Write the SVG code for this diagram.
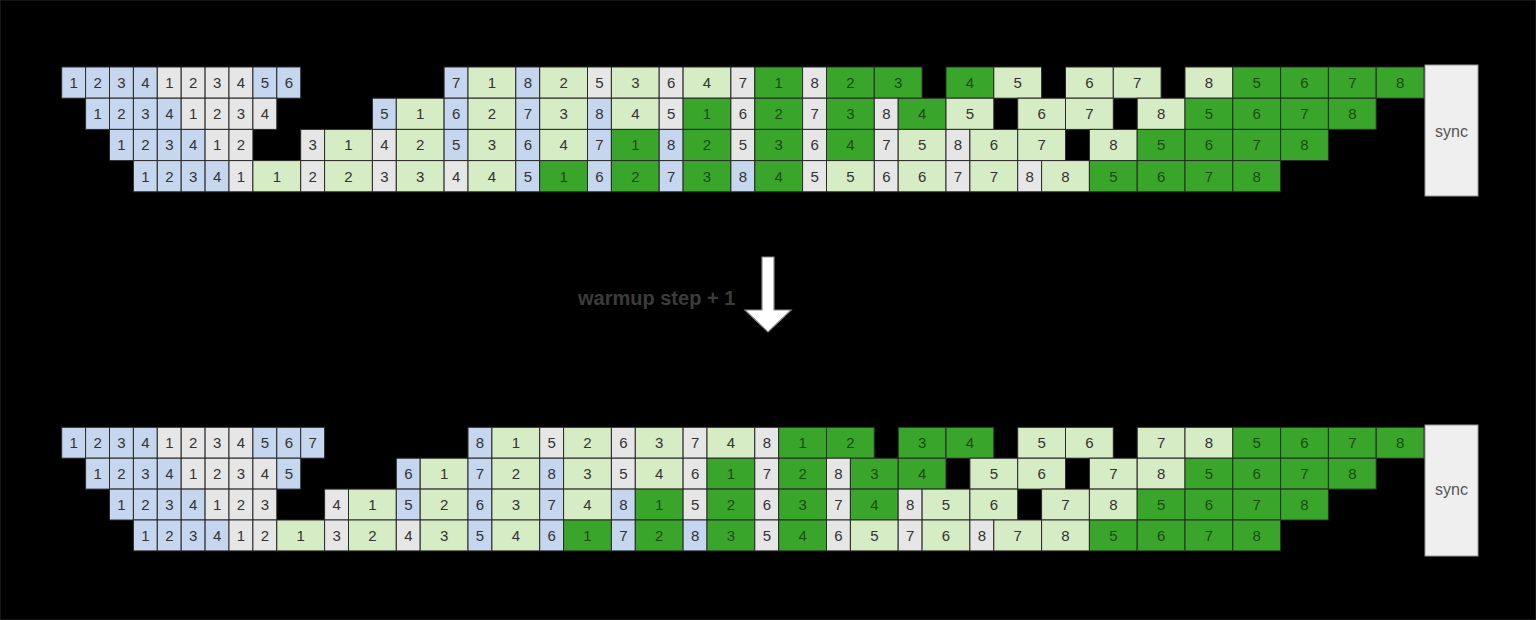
<svg xmlns="http://www.w3.org/2000/svg" width="1536" height="620" viewBox="0 0 1536 620">
<style>
rect{stroke:#2a2a2a;stroke-width:1}
.b{fill:#c5d6ee}.g{fill:#e6e6e6}.l{fill:#d6ecc4}.d{fill:#3aa52b}
text{font-family:"Liberation Sans",Arial,sans-serif;font-size:15px;text-anchor:middle;fill:#333}
.k{fill:#1b4d12}
.sync{fill:#efefef;stroke:#9a9a9a;stroke-width:1}
.st{font-size:16px;fill:#555}
</style>
<rect x="0" y="0" width="1536" height="620" fill="#000" stroke="none"/>

<g id="top">
<g id="top-r1" transform="translate(0,67)">
<rect class="b" x="61.7" width="23.9" height="31.2"/><text x="73.7" y="21">1</text>
<rect class="b" x="85.6" width="23.9" height="31.2"/><text x="97.6" y="21">2</text>
<rect class="b" x="109.5" width="23.9" height="31.2"/><text x="121.5" y="21">3</text>
<rect class="b" x="133.4" width="23.9" height="31.2"/><text x="145.4" y="21">4</text>
<rect class="g" x="157.3" width="23.9" height="31.2"/><text x="169.3" y="21">1</text>
<rect class="g" x="181.2" width="23.9" height="31.2"/><text x="193.2" y="21">2</text>
<rect class="g" x="205.1" width="23.9" height="31.2"/><text x="217.1" y="21">3</text>
<rect class="g" x="229.0" width="23.9" height="31.2"/><text x="241.0" y="21">4</text>
<rect class="b" x="252.9" width="23.9" height="31.2"/><text x="264.9" y="21">5</text>
<rect class="b" x="276.8" width="23.9" height="31.2"/><text x="288.8" y="21">6</text>
<rect class="b" x="444.1" width="23.9" height="31.2"/><text x="456.1" y="21">7</text>
<rect class="l" x="468.0" width="47.8" height="31.2"/><text x="491.9" y="21">1</text>
<rect class="b" x="515.8" width="23.9" height="31.2"/><text x="527.8" y="21">8</text>
<rect class="l" x="539.7" width="47.8" height="31.2"/><text x="563.6" y="21">2</text>
<rect class="g" x="587.5" width="23.9" height="31.2"/><text x="599.5" y="21">5</text>
<rect class="l" x="611.4" width="47.8" height="31.2"/><text x="635.3" y="21">3</text>
<rect class="g" x="659.2" width="23.9" height="31.2"/><text x="671.2" y="21">6</text>
<rect class="l" x="683.1" width="47.8" height="31.2"/><text x="707.0" y="21">4</text>
<rect class="g" x="730.9" width="23.9" height="31.2"/><text x="742.9" y="21">7</text>
<rect class="d" x="754.8" width="47.8" height="31.2"/><text class="k" x="778.7" y="21">1</text>
<rect class="g" x="802.6" width="23.9" height="31.2"/><text x="814.6" y="21">8</text>
<rect class="d" x="826.5" width="47.8" height="31.2"/><text class="k" x="850.4" y="21">2</text>
<rect class="d" x="874.3" width="47.8" height="31.2"/><text class="k" x="898.2" y="21">3</text>
<rect class="d" x="946.0" width="47.8" height="31.2"/><text class="k" x="969.9" y="21">4</text>
<rect class="l" x="993.8" width="47.8" height="31.2"/><text x="1017.7" y="21">5</text>
<rect class="l" x="1065.5" width="47.8" height="31.2"/><text x="1089.4" y="21">6</text>
<rect class="l" x="1113.3" width="47.8" height="31.2"/><text x="1137.2" y="21">7</text>
<rect class="l" x="1185.0" width="47.8" height="31.2"/><text x="1208.9" y="21">8</text>
<rect class="d" x="1232.8" width="47.8" height="31.2"/><text class="k" x="1256.7" y="21">5</text>
<rect class="d" x="1280.6" width="47.8" height="31.2"/><text class="k" x="1304.5" y="21">6</text>
<rect class="d" x="1328.4" width="47.8" height="31.2"/><text class="k" x="1352.3" y="21">7</text>
<rect class="d" x="1376.2" width="47.8" height="31.2"/><text class="k" x="1400.1" y="21">8</text>
</g>
<g id="top-r2" transform="translate(0,98.2)">
<rect class="b" x="85.6" width="23.9" height="31.2"/><text x="97.6" y="21">1</text>
<rect class="b" x="109.5" width="23.9" height="31.2"/><text x="121.5" y="21">2</text>
<rect class="b" x="133.4" width="23.9" height="31.2"/><text x="145.4" y="21">3</text>
<rect class="b" x="157.3" width="23.9" height="31.2"/><text x="169.3" y="21">4</text>
<rect class="g" x="181.2" width="23.9" height="31.2"/><text x="193.2" y="21">1</text>
<rect class="g" x="205.1" width="23.9" height="31.2"/><text x="217.1" y="21">2</text>
<rect class="g" x="229.0" width="23.9" height="31.2"/><text x="241.0" y="21">3</text>
<rect class="g" x="252.9" width="23.9" height="31.2"/><text x="264.9" y="21">4</text>
<rect class="b" x="372.4" width="23.9" height="31.2"/><text x="384.4" y="21">5</text>
<rect class="l" x="396.3" width="47.8" height="31.2"/><text x="420.2" y="21">1</text>
<rect class="b" x="444.1" width="23.9" height="31.2"/><text x="456.1" y="21">6</text>
<rect class="l" x="468.0" width="47.8" height="31.2"/><text x="491.9" y="21">2</text>
<rect class="b" x="515.8" width="23.9" height="31.2"/><text x="527.8" y="21">7</text>
<rect class="l" x="539.7" width="47.8" height="31.2"/><text x="563.6" y="21">3</text>
<rect class="b" x="587.5" width="23.9" height="31.2"/><text x="599.5" y="21">8</text>
<rect class="l" x="611.4" width="47.8" height="31.2"/><text x="635.3" y="21">4</text>
<rect class="g" x="659.2" width="23.9" height="31.2"/><text x="671.2" y="21">5</text>
<rect class="d" x="683.1" width="47.8" height="31.2"/><text class="k" x="707.0" y="21">1</text>
<rect class="g" x="730.9" width="23.9" height="31.2"/><text x="742.9" y="21">6</text>
<rect class="d" x="754.8" width="47.8" height="31.2"/><text class="k" x="778.7" y="21">2</text>
<rect class="g" x="802.6" width="23.9" height="31.2"/><text x="814.6" y="21">7</text>
<rect class="d" x="826.5" width="47.8" height="31.2"/><text class="k" x="850.4" y="21">3</text>
<rect class="g" x="874.3" width="23.9" height="31.2"/><text x="886.3" y="21">8</text>
<rect class="d" x="898.2" width="47.8" height="31.2"/><text class="k" x="922.1" y="21">4</text>
<rect class="l" x="946.0" width="47.8" height="31.2"/><text x="969.9" y="21">5</text>
<rect class="l" x="1017.7" width="47.8" height="31.2"/><text x="1041.6" y="21">6</text>
<rect class="l" x="1065.5" width="47.8" height="31.2"/><text x="1089.4" y="21">7</text>
<rect class="l" x="1137.2" width="47.8" height="31.2"/><text x="1161.1" y="21">8</text>
<rect class="d" x="1185.0" width="47.8" height="31.2"/><text class="k" x="1208.9" y="21">5</text>
<rect class="d" x="1232.8" width="47.8" height="31.2"/><text class="k" x="1256.7" y="21">6</text>
<rect class="d" x="1280.6" width="47.8" height="31.2"/><text class="k" x="1304.5" y="21">7</text>
<rect class="d" x="1328.4" width="47.8" height="31.2"/><text class="k" x="1352.3" y="21">8</text>
</g>
<g id="top-r3" transform="translate(0,129.4)">
<rect class="b" x="109.5" width="23.9" height="31.2"/><text x="121.5" y="21">1</text>
<rect class="b" x="133.4" width="23.9" height="31.2"/><text x="145.4" y="21">2</text>
<rect class="b" x="157.3" width="23.9" height="31.2"/><text x="169.3" y="21">3</text>
<rect class="b" x="181.2" width="23.9" height="31.2"/><text x="193.2" y="21">4</text>
<rect class="g" x="205.1" width="23.9" height="31.2"/><text x="217.1" y="21">1</text>
<rect class="g" x="229.0" width="23.9" height="31.2"/><text x="241.0" y="21">2</text>
<rect class="g" x="300.7" width="23.9" height="31.2"/><text x="312.7" y="21">3</text>
<rect class="l" x="324.6" width="47.8" height="31.2"/><text x="348.5" y="21">1</text>
<rect class="g" x="372.4" width="23.9" height="31.2"/><text x="384.4" y="21">4</text>
<rect class="l" x="396.3" width="47.8" height="31.2"/><text x="420.2" y="21">2</text>
<rect class="b" x="444.1" width="23.9" height="31.2"/><text x="456.1" y="21">5</text>
<rect class="l" x="468.0" width="47.8" height="31.2"/><text x="491.9" y="21">3</text>
<rect class="b" x="515.8" width="23.9" height="31.2"/><text x="527.8" y="21">6</text>
<rect class="l" x="539.7" width="47.8" height="31.2"/><text x="563.6" y="21">4</text>
<rect class="b" x="587.5" width="23.9" height="31.2"/><text x="599.5" y="21">7</text>
<rect class="d" x="611.4" width="47.8" height="31.2"/><text class="k" x="635.3" y="21">1</text>
<rect class="b" x="659.2" width="23.9" height="31.2"/><text x="671.2" y="21">8</text>
<rect class="d" x="683.1" width="47.8" height="31.2"/><text class="k" x="707.0" y="21">2</text>
<rect class="g" x="730.9" width="23.9" height="31.2"/><text x="742.9" y="21">5</text>
<rect class="d" x="754.8" width="47.8" height="31.2"/><text class="k" x="778.7" y="21">3</text>
<rect class="g" x="802.6" width="23.9" height="31.2"/><text x="814.6" y="21">6</text>
<rect class="d" x="826.5" width="47.8" height="31.2"/><text class="k" x="850.4" y="21">4</text>
<rect class="g" x="874.3" width="23.9" height="31.2"/><text x="886.3" y="21">7</text>
<rect class="l" x="898.2" width="47.8" height="31.2"/><text x="922.1" y="21">5</text>
<rect class="g" x="946.0" width="23.9" height="31.2"/><text x="958.0" y="21">8</text>
<rect class="l" x="969.9" width="47.8" height="31.2"/><text x="993.8" y="21">6</text>
<rect class="l" x="1017.7" width="47.8" height="31.2"/><text x="1041.6" y="21">7</text>
<rect class="l" x="1089.4" width="47.8" height="31.2"/><text x="1113.3" y="21">8</text>
<rect class="d" x="1137.2" width="47.8" height="31.2"/><text class="k" x="1161.1" y="21">5</text>
<rect class="d" x="1185.0" width="47.8" height="31.2"/><text class="k" x="1208.9" y="21">6</text>
<rect class="d" x="1232.8" width="47.8" height="31.2"/><text class="k" x="1256.7" y="21">7</text>
<rect class="d" x="1280.6" width="47.8" height="31.2"/><text class="k" x="1304.5" y="21">8</text>
</g>
<g id="top-r4" transform="translate(0,160.6)">
<rect class="b" x="133.4" width="23.9" height="31.2"/><text x="145.4" y="21">1</text>
<rect class="b" x="157.3" width="23.9" height="31.2"/><text x="169.3" y="21">2</text>
<rect class="b" x="181.2" width="23.9" height="31.2"/><text x="193.2" y="21">3</text>
<rect class="b" x="205.1" width="23.9" height="31.2"/><text x="217.1" y="21">4</text>
<rect class="g" x="229.0" width="23.9" height="31.2"/><text x="241.0" y="21">1</text>
<rect class="l" x="252.9" width="47.8" height="31.2"/><text x="276.8" y="21">1</text>
<rect class="g" x="300.7" width="23.9" height="31.2"/><text x="312.7" y="21">2</text>
<rect class="l" x="324.6" width="47.8" height="31.2"/><text x="348.5" y="21">2</text>
<rect class="g" x="372.4" width="23.9" height="31.2"/><text x="384.4" y="21">3</text>
<rect class="l" x="396.3" width="47.8" height="31.2"/><text x="420.2" y="21">3</text>
<rect class="g" x="444.1" width="23.9" height="31.2"/><text x="456.1" y="21">4</text>
<rect class="l" x="468.0" width="47.8" height="31.2"/><text x="491.9" y="21">4</text>
<rect class="b" x="515.8" width="23.9" height="31.2"/><text x="527.8" y="21">5</text>
<rect class="d" x="539.7" width="47.8" height="31.2"/><text class="k" x="563.6" y="21">1</text>
<rect class="b" x="587.5" width="23.9" height="31.2"/><text x="599.5" y="21">6</text>
<rect class="d" x="611.4" width="47.8" height="31.2"/><text class="k" x="635.3" y="21">2</text>
<rect class="b" x="659.2" width="23.9" height="31.2"/><text x="671.2" y="21">7</text>
<rect class="d" x="683.1" width="47.8" height="31.2"/><text class="k" x="707.0" y="21">3</text>
<rect class="b" x="730.9" width="23.9" height="31.2"/><text x="742.9" y="21">8</text>
<rect class="d" x="754.8" width="47.8" height="31.2"/><text class="k" x="778.7" y="21">4</text>
<rect class="g" x="802.6" width="23.9" height="31.2"/><text x="814.6" y="21">5</text>
<rect class="l" x="826.5" width="47.8" height="31.2"/><text x="850.4" y="21">5</text>
<rect class="g" x="874.3" width="23.9" height="31.2"/><text x="886.3" y="21">6</text>
<rect class="l" x="898.2" width="47.8" height="31.2"/><text x="922.1" y="21">6</text>
<rect class="g" x="946.0" width="23.9" height="31.2"/><text x="958.0" y="21">7</text>
<rect class="l" x="969.9" width="47.8" height="31.2"/><text x="993.8" y="21">7</text>
<rect class="g" x="1017.7" width="23.9" height="31.2"/><text x="1029.7" y="21">8</text>
<rect class="l" x="1041.6" width="47.8" height="31.2"/><text x="1065.5" y="21">8</text>
<rect class="d" x="1089.4" width="47.8" height="31.2"/><text class="k" x="1113.3" y="21">5</text>
<rect class="d" x="1137.2" width="47.8" height="31.2"/><text class="k" x="1161.1" y="21">6</text>
<rect class="d" x="1185.0" width="47.8" height="31.2"/><text class="k" x="1208.9" y="21">7</text>
<rect class="d" x="1232.8" width="47.8" height="31.2"/><text class="k" x="1256.7" y="21">8</text>
</g>
<g id="top-sync">
<rect class="sync" x="1425" y="65" width="53" height="131"/><text class="st" x="1451.5" y="137">sync</text>
</g>
</g>

<g id="middle">
<text x="578" y="305" style="font-size:20px;font-weight:bold;fill:#3c3c3c;text-anchor:start">warmup step + 1</text>
<polygon points="762,257 774,257 774,310 791,310 768,332 745,310 762,310" fill="#fff" stroke="#8a8a8a" stroke-width="1.2"/>
</g>

<g id="bottom">
<g id="bot-r1" transform="translate(0,427.3)">
<rect class="b" x="61.7" width="23.9" height="30.9"/><text x="73.7" y="21">1</text>
<rect class="b" x="85.6" width="23.9" height="30.9"/><text x="97.6" y="21">2</text>
<rect class="b" x="109.5" width="23.9" height="30.9"/><text x="121.5" y="21">3</text>
<rect class="b" x="133.4" width="23.9" height="30.9"/><text x="145.4" y="21">4</text>
<rect class="g" x="157.3" width="23.9" height="30.9"/><text x="169.3" y="21">1</text>
<rect class="g" x="181.2" width="23.9" height="30.9"/><text x="193.2" y="21">2</text>
<rect class="g" x="205.1" width="23.9" height="30.9"/><text x="217.1" y="21">3</text>
<rect class="g" x="229.0" width="23.9" height="30.9"/><text x="241.0" y="21">4</text>
<rect class="b" x="252.9" width="23.9" height="30.9"/><text x="264.9" y="21">5</text>
<rect class="b" x="276.8" width="23.9" height="30.9"/><text x="288.8" y="21">6</text>
<rect class="b" x="300.7" width="23.9" height="30.9"/><text x="312.7" y="21">7</text>
<rect class="b" x="468.0" width="23.9" height="30.9"/><text x="480.0" y="21">8</text>
<rect class="l" x="491.9" width="47.8" height="30.9"/><text x="515.8" y="21">1</text>
<rect class="g" x="539.7" width="23.9" height="30.9"/><text x="551.7" y="21">5</text>
<rect class="l" x="563.6" width="47.8" height="30.9"/><text x="587.5" y="21">2</text>
<rect class="g" x="611.4" width="23.9" height="30.9"/><text x="623.4" y="21">6</text>
<rect class="l" x="635.3" width="47.8" height="30.9"/><text x="659.2" y="21">3</text>
<rect class="g" x="683.1" width="23.9" height="30.9"/><text x="695.1" y="21">7</text>
<rect class="l" x="707.0" width="47.8" height="30.9"/><text x="730.9" y="21">4</text>
<rect class="g" x="754.8" width="23.9" height="30.9"/><text x="766.8" y="21">8</text>
<rect class="d" x="778.7" width="47.8" height="30.9"/><text class="k" x="802.6" y="21">1</text>
<rect class="d" x="826.5" width="47.8" height="30.9"/><text class="k" x="850.4" y="21">2</text>
<rect class="d" x="898.2" width="47.8" height="30.9"/><text class="k" x="922.1" y="21">3</text>
<rect class="d" x="946.0" width="47.8" height="30.9"/><text class="k" x="969.9" y="21">4</text>
<rect class="l" x="1017.7" width="47.8" height="30.9"/><text x="1041.6" y="21">5</text>
<rect class="l" x="1065.5" width="47.8" height="30.9"/><text x="1089.4" y="21">6</text>
<rect class="l" x="1137.2" width="47.8" height="30.9"/><text x="1161.1" y="21">7</text>
<rect class="l" x="1185.0" width="47.8" height="30.9"/><text x="1208.9" y="21">8</text>
<rect class="d" x="1232.8" width="47.8" height="30.9"/><text class="k" x="1256.7" y="21">5</text>
<rect class="d" x="1280.6" width="47.8" height="30.9"/><text class="k" x="1304.5" y="21">6</text>
<rect class="d" x="1328.4" width="47.8" height="30.9"/><text class="k" x="1352.3" y="21">7</text>
<rect class="d" x="1376.2" width="47.8" height="30.9"/><text class="k" x="1400.1" y="21">8</text>
</g>
<g id="bot-r2" transform="translate(0,458.2)">
<rect class="b" x="85.6" width="23.9" height="30.9"/><text x="97.6" y="21">1</text>
<rect class="b" x="109.5" width="23.9" height="30.9"/><text x="121.5" y="21">2</text>
<rect class="b" x="133.4" width="23.9" height="30.9"/><text x="145.4" y="21">3</text>
<rect class="b" x="157.3" width="23.9" height="30.9"/><text x="169.3" y="21">4</text>
<rect class="g" x="181.2" width="23.9" height="30.9"/><text x="193.2" y="21">1</text>
<rect class="g" x="205.1" width="23.9" height="30.9"/><text x="217.1" y="21">2</text>
<rect class="g" x="229.0" width="23.9" height="30.9"/><text x="241.0" y="21">3</text>
<rect class="g" x="252.9" width="23.9" height="30.9"/><text x="264.9" y="21">4</text>
<rect class="b" x="276.8" width="23.9" height="30.9"/><text x="288.8" y="21">5</text>
<rect class="b" x="396.3" width="23.9" height="30.9"/><text x="408.3" y="21">6</text>
<rect class="l" x="420.2" width="47.8" height="30.9"/><text x="444.1" y="21">1</text>
<rect class="b" x="468.0" width="23.9" height="30.9"/><text x="480.0" y="21">7</text>
<rect class="l" x="491.9" width="47.8" height="30.9"/><text x="515.8" y="21">2</text>
<rect class="b" x="539.7" width="23.9" height="30.9"/><text x="551.7" y="21">8</text>
<rect class="l" x="563.6" width="47.8" height="30.9"/><text x="587.5" y="21">3</text>
<rect class="g" x="611.4" width="23.9" height="30.9"/><text x="623.4" y="21">5</text>
<rect class="l" x="635.3" width="47.8" height="30.9"/><text x="659.2" y="21">4</text>
<rect class="g" x="683.1" width="23.9" height="30.9"/><text x="695.1" y="21">6</text>
<rect class="d" x="707.0" width="47.8" height="30.9"/><text class="k" x="730.9" y="21">1</text>
<rect class="g" x="754.8" width="23.9" height="30.9"/><text x="766.8" y="21">7</text>
<rect class="d" x="778.7" width="47.8" height="30.9"/><text class="k" x="802.6" y="21">2</text>
<rect class="g" x="826.5" width="23.9" height="30.9"/><text x="838.5" y="21">8</text>
<rect class="d" x="850.4" width="47.8" height="30.9"/><text class="k" x="874.3" y="21">3</text>
<rect class="d" x="898.2" width="47.8" height="30.9"/><text class="k" x="922.1" y="21">4</text>
<rect class="l" x="969.9" width="47.8" height="30.9"/><text x="993.8" y="21">5</text>
<rect class="l" x="1017.7" width="47.8" height="30.9"/><text x="1041.6" y="21">6</text>
<rect class="l" x="1089.4" width="47.8" height="30.9"/><text x="1113.3" y="21">7</text>
<rect class="l" x="1137.2" width="47.8" height="30.9"/><text x="1161.1" y="21">8</text>
<rect class="d" x="1185.0" width="47.8" height="30.9"/><text class="k" x="1208.9" y="21">5</text>
<rect class="d" x="1232.8" width="47.8" height="30.9"/><text class="k" x="1256.7" y="21">6</text>
<rect class="d" x="1280.6" width="47.8" height="30.9"/><text class="k" x="1304.5" y="21">7</text>
<rect class="d" x="1328.4" width="47.8" height="30.9"/><text class="k" x="1352.3" y="21">8</text>
</g>
<g id="bot-r3" transform="translate(0,489.1)">
<rect class="b" x="109.5" width="23.9" height="30.9"/><text x="121.5" y="21">1</text>
<rect class="b" x="133.4" width="23.9" height="30.9"/><text x="145.4" y="21">2</text>
<rect class="b" x="157.3" width="23.9" height="30.9"/><text x="169.3" y="21">3</text>
<rect class="b" x="181.2" width="23.9" height="30.9"/><text x="193.2" y="21">4</text>
<rect class="g" x="205.1" width="23.9" height="30.9"/><text x="217.1" y="21">1</text>
<rect class="g" x="229.0" width="23.9" height="30.9"/><text x="241.0" y="21">2</text>
<rect class="g" x="252.9" width="23.9" height="30.9"/><text x="264.9" y="21">3</text>
<rect class="g" x="324.6" width="23.9" height="30.9"/><text x="336.6" y="21">4</text>
<rect class="l" x="348.5" width="47.8" height="30.9"/><text x="372.4" y="21">1</text>
<rect class="b" x="396.3" width="23.9" height="30.9"/><text x="408.3" y="21">5</text>
<rect class="l" x="420.2" width="47.8" height="30.9"/><text x="444.1" y="21">2</text>
<rect class="b" x="468.0" width="23.9" height="30.9"/><text x="480.0" y="21">6</text>
<rect class="l" x="491.9" width="47.8" height="30.9"/><text x="515.8" y="21">3</text>
<rect class="b" x="539.7" width="23.9" height="30.9"/><text x="551.7" y="21">7</text>
<rect class="l" x="563.6" width="47.8" height="30.9"/><text x="587.5" y="21">4</text>
<rect class="b" x="611.4" width="23.9" height="30.9"/><text x="623.4" y="21">8</text>
<rect class="d" x="635.3" width="47.8" height="30.9"/><text class="k" x="659.2" y="21">1</text>
<rect class="g" x="683.1" width="23.9" height="30.9"/><text x="695.1" y="21">5</text>
<rect class="d" x="707.0" width="47.8" height="30.9"/><text class="k" x="730.9" y="21">2</text>
<rect class="g" x="754.8" width="23.9" height="30.9"/><text x="766.8" y="21">6</text>
<rect class="d" x="778.7" width="47.8" height="30.9"/><text class="k" x="802.6" y="21">3</text>
<rect class="g" x="826.5" width="23.9" height="30.9"/><text x="838.5" y="21">7</text>
<rect class="d" x="850.4" width="47.8" height="30.9"/><text class="k" x="874.3" y="21">4</text>
<rect class="g" x="898.2" width="23.9" height="30.9"/><text x="910.2" y="21">8</text>
<rect class="l" x="922.1" width="47.8" height="30.9"/><text x="946.0" y="21">5</text>
<rect class="l" x="969.9" width="47.8" height="30.9"/><text x="993.8" y="21">6</text>
<rect class="l" x="1041.6" width="47.8" height="30.9"/><text x="1065.5" y="21">7</text>
<rect class="l" x="1089.4" width="47.8" height="30.9"/><text x="1113.3" y="21">8</text>
<rect class="d" x="1137.2" width="47.8" height="30.9"/><text class="k" x="1161.1" y="21">5</text>
<rect class="d" x="1185.0" width="47.8" height="30.9"/><text class="k" x="1208.9" y="21">6</text>
<rect class="d" x="1232.8" width="47.8" height="30.9"/><text class="k" x="1256.7" y="21">7</text>
<rect class="d" x="1280.6" width="47.8" height="30.9"/><text class="k" x="1304.5" y="21">8</text>
</g>
<g id="bot-r4" transform="translate(0,520)">
<rect class="b" x="133.4" width="23.9" height="30.9"/><text x="145.4" y="21">1</text>
<rect class="b" x="157.3" width="23.9" height="30.9"/><text x="169.3" y="21">2</text>
<rect class="b" x="181.2" width="23.9" height="30.9"/><text x="193.2" y="21">3</text>
<rect class="b" x="205.1" width="23.9" height="30.9"/><text x="217.1" y="21">4</text>
<rect class="g" x="229.0" width="23.9" height="30.9"/><text x="241.0" y="21">1</text>
<rect class="g" x="252.9" width="23.9" height="30.9"/><text x="264.9" y="21">2</text>
<rect class="l" x="276.8" width="47.8" height="30.9"/><text x="300.7" y="21">1</text>
<rect class="g" x="324.6" width="23.9" height="30.9"/><text x="336.6" y="21">3</text>
<rect class="l" x="348.5" width="47.8" height="30.9"/><text x="372.4" y="21">2</text>
<rect class="g" x="396.3" width="23.9" height="30.9"/><text x="408.3" y="21">4</text>
<rect class="l" x="420.2" width="47.8" height="30.9"/><text x="444.1" y="21">3</text>
<rect class="b" x="468.0" width="23.9" height="30.9"/><text x="480.0" y="21">5</text>
<rect class="l" x="491.9" width="47.8" height="30.9"/><text x="515.8" y="21">4</text>
<rect class="b" x="539.7" width="23.9" height="30.9"/><text x="551.7" y="21">6</text>
<rect class="d" x="563.6" width="47.8" height="30.9"/><text class="k" x="587.5" y="21">1</text>
<rect class="b" x="611.4" width="23.9" height="30.9"/><text x="623.4" y="21">7</text>
<rect class="d" x="635.3" width="47.8" height="30.9"/><text class="k" x="659.2" y="21">2</text>
<rect class="b" x="683.1" width="23.9" height="30.9"/><text x="695.1" y="21">8</text>
<rect class="d" x="707.0" width="47.8" height="30.9"/><text class="k" x="730.9" y="21">3</text>
<rect class="g" x="754.8" width="23.9" height="30.9"/><text x="766.8" y="21">5</text>
<rect class="d" x="778.7" width="47.8" height="30.9"/><text class="k" x="802.6" y="21">4</text>
<rect class="g" x="826.5" width="23.9" height="30.9"/><text x="838.5" y="21">6</text>
<rect class="l" x="850.4" width="47.8" height="30.9"/><text x="874.3" y="21">5</text>
<rect class="g" x="898.2" width="23.9" height="30.9"/><text x="910.2" y="21">7</text>
<rect class="l" x="922.1" width="47.8" height="30.9"/><text x="946.0" y="21">6</text>
<rect class="g" x="969.9" width="23.9" height="30.9"/><text x="981.9" y="21">8</text>
<rect class="l" x="993.8" width="47.8" height="30.9"/><text x="1017.7" y="21">7</text>
<rect class="l" x="1041.6" width="47.8" height="30.9"/><text x="1065.5" y="21">8</text>
<rect class="d" x="1089.4" width="47.8" height="30.9"/><text class="k" x="1113.3" y="21">5</text>
<rect class="d" x="1137.2" width="47.8" height="30.9"/><text class="k" x="1161.1" y="21">6</text>
<rect class="d" x="1185.0" width="47.8" height="30.9"/><text class="k" x="1208.9" y="21">7</text>
<rect class="d" x="1232.8" width="47.8" height="30.9"/><text class="k" x="1256.7" y="21">8</text>
</g>
<g id="bot-sync">
<rect class="sync" x="1425" y="425" width="53" height="131"/><text class="st" x="1451.5" y="495">sync</text>
</g>
</g>
</svg>
